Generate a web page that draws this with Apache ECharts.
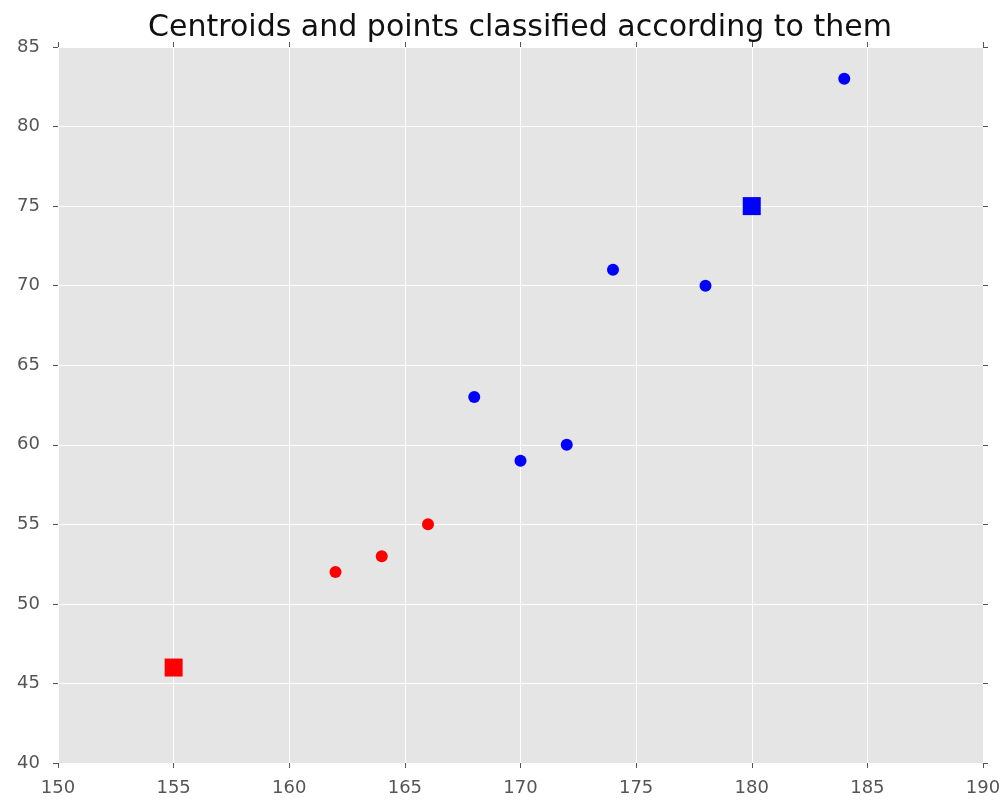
<!DOCTYPE html>
<html>
<head>
<meta charset="utf-8">
<script src="https://cdn.jsdelivr.net/npm/echarts@6/dist/echarts.min.js"></script>
<style>
  html, body { margin: 0; padding: 0; background: #fff; }
  #main { width: 1007px; height: 804px; }
</style>
</head>
<body>
<div id="main"></div>
<script>
// points classified as cluster 0 (red) and cluster 1 (blue)
var redPoints = [[162, 52], [164, 53], [166, 55]];
var bluePoints = [[168, 63], [170, 59], [172, 60], [174, 71], [178, 70], [184, 83]];
// centroids
var redCentroid = [[155, 46]];
var blueCentroid = [[180, 75]];

var xTicks = [150, 155, 160, 165, 170, 175, 180, 185, 190];
var yTicks = [40, 45, 50, 55, 60, 65, 70, 75, 80, 85];

var chart = echarts.init(document.getElementById("main"));

var tickStyle = { show: true, inside: false, length: 5, lineStyle: { color: "#555", width: 1 } };
var labelStyle = { color: "#555", fontSize: 18, fontFamily: "DejaVu Sans" };

var option = {
    animation: false,
    backgroundColor: "#fff",
    title: {
        text: "Centroids and points classified according to them",
        left: 515,
        textAlign: "center",
        top: 8,
        textStyle: { color: "#111", fontSize: 30, fontWeight: "normal", fontFamily: "DejaVu Sans" }
    },
    grid: {
        left: 58, right: 24, top: 47, bottom: 41,
        show: true, backgroundColor: "#E5E5E5", borderWidth: 0
    },
    xAxis: [
        {
            type: "value", min: xTicks[0], max: xTicks[xTicks.length - 1], interval: 5,
            axisLine: { show: false },
            axisTick: tickStyle,
            axisLabel: Object.assign({ margin: 16 }, labelStyle),
            splitLine: { show: true, lineStyle: { color: "#fff", width: 1 } }
        },
        {
            type: "value", position: "top", min: xTicks[0], max: xTicks[xTicks.length - 1], interval: 5,
            axisLine: { show: false },
            axisTick: tickStyle,
            axisLabel: { show: false },
            splitLine: { show: false }
        }
    ],
    yAxis: [
        {
            type: "value", min: yTicks[0], max: yTicks[yTicks.length - 1], interval: 5,
            axisLine: { show: false },
            axisTick: tickStyle,
            axisLabel: Object.assign({ margin: 18 }, labelStyle),
            splitLine: { show: true, lineStyle: { color: "#fff", width: 1 } }
        },
        {
            type: "value", position: "right", min: yTicks[0], max: yTicks[yTicks.length - 1], interval: 5,
            axisLine: { show: false },
            axisTick: tickStyle,
            axisLabel: { show: false },
            splitLine: { show: false }
        }
    ],
    series: [
        {
            type: "scatter", data: redPoints, symbol: "circle", symbolSize: 12,
            itemStyle: { color: "#ff0000", opacity: 1 }
        },
        {
            type: "scatter", data: bluePoints, symbol: "circle", symbolSize: 12,
            itemStyle: { color: "#0000ff", opacity: 1 }
        },
        {
            type: "scatter", data: redCentroid, symbol: "rect", symbolSize: 18,
            itemStyle: { color: "#ff0000", opacity: 1 }
        },
        {
            type: "scatter", data: blueCentroid, symbol: "rect", symbolSize: 18,
            itemStyle: { color: "#0000ff", opacity: 1 }
        }
    ]
};

chart.setOption(option);
</script>
</body>
</html>
